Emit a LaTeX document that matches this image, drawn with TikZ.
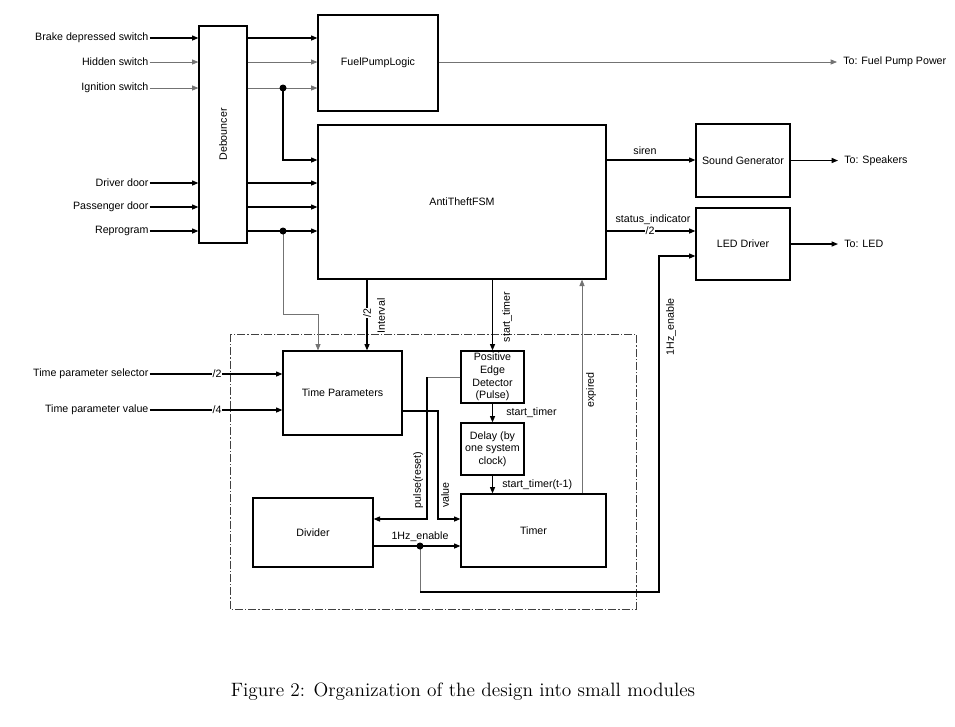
\documentclass[tikz,border=0pt]{standalone}
\usepackage{fontspec}
\newfontfamily\diafont{Liberation Sans}
\usetikzlibrary{arrows.meta}

\tikzset{
  blk/.style={draw, line width=0.9pt, inner sep=0.5pt, align=center, font=\diafont\fontsize{8}{9.5}\selectfont},
  lbl/.style={inner sep=0.75pt, align=center, font=\diafont\fontsize{8}{9.5}\selectfont},
  bus/.style={lbl, fill=white, inner sep=0.3pt},
  wire/.style={line width=0.9pt},
  gwire/.style={line width=0.6pt, color=black!55},
  frame/.style={line width=0.6pt, color=black!75, dash pattern=on 6pt off 1.5pt on 1pt off 1.5pt},
}

\begin{document}
\begin{tikzpicture}[x=0.75pt,y=0.75pt,yscale=-1,xscale=1, >={Triangle[length=4.8pt,width=3.8pt]}]
\useasboundingbox (0,0) rectangle (955,726);

% Blocks
\node[blk, minimum width=36pt, minimum height=162.75pt] (deb) at (223,134.5) {};
\node[lbl, rotate=90] (debtxt) at (deb) {Debouncer};
\node[blk, minimum width=90pt, minimum height=72pt] (fpl) at (378,63) {FuelPumpLogic};
\node[blk, minimum width=216pt, minimum height=115.5pt] (fsm) at (462,202) {AntiTheftFSM};
\node[blk, minimum width=70.5pt, minimum height=54.75pt] (snd) at (743,160.5) {Sound Generator};
\node[blk, minimum width=70.5pt, minimum height=54pt] (led) at (743,244) {LED Driver};
\node[blk, minimum width=89.25pt, minimum height=63pt] (tp) at (342.5,393) {Time Parameters};
\node[blk, minimum width=47.25pt, minimum height=39pt] (ped) at (492.5,377) {Positive\\Edge\\Detector\\(Pulse)};
\node[blk, minimum width=47.25pt, minimum height=39pt] (dly) at (492.5,449) {Delay (by\\one system\\clock)};
\node[blk, minimum width=108.75pt, minimum height=54.75pt] (tmr) at (533.5,530.5) {Timer};
\node[blk, minimum width=90pt, minimum height=51.75pt] (div) at (313,532.5) {Divider};

% Dashed frame round the timer modules
\draw[frame] (230,334) rectangle (636,609);

% Switch inputs
\node[lbl, anchor=east] (brk) at (149.7,38) {Brake depressed switch};
\node[lbl, anchor=east] (hid) at (149.7,62) {Hidden switch};
\node[lbl, anchor=east] (ign) at (149.7,88) {Ignition switch};
\node[lbl, anchor=east] (drv) at (149.7,183) {Driver door};
\node[lbl, anchor=east] (pas) at (149.7,207) {Passenger door};
\node[lbl, anchor=east] (rep) at (149.7,231) {Reprogram};

\draw[wire,->] (brk.east) -- (deb.west |- brk.east);
\draw[gwire,->] (hid.east) -- (deb.west |- hid.east);
\draw[gwire,->] (ign.east) -- (deb.west |- ign.east);
\draw[wire,->] (drv.east) -- (deb.west |- drv.east);
\draw[wire,->] (pas.east) -- (deb.west |- pas.east);
\draw[wire,->] (rep.east) -- (deb.west |- rep.east);

% Debounced signals
\draw[wire,->] (deb.east |- brk.east) -- (fpl.west |- brk.east);
\draw[gwire,->] (deb.east |- hid.east) -- (fpl.west |- hid.east);
\draw[gwire,->] (deb.east |- ign.east) -- (fpl.west |- ign.east);
\coordinate (ignj) at (283,88);
\draw[wire,->] (ignj) |- (fsm.west |- 0,160);
\fill (ignj) circle (3.5);
\draw[wire,->] (deb.east |- drv.east) -- (fsm.west |- drv.east);
\draw[wire,->] (deb.east |- pas.east) -- (fsm.west |- pas.east);
\draw[wire,->] (deb.east |- rep.east) -- (fsm.west |- rep.east);
\coordinate (repj) at (283,231);
\coordinate (repb) at (318,314);
\draw[gwire,->] (repj) |- (repb) -- (repb |- tp.north);
\fill (repj) circle (3.5);

% Fuel pump output
\coordinate (fpo) at (837,62);
\draw[gwire,->] (fpl.east |- hid.east) -- (fpo);
\node[lbl, anchor=west] (fpp) at (842,62) {To: Fuel Pump Power};

% Siren and LED outputs
\draw[wire,->] (fsm.east |- 0,160) -- (snd.west |- 0,160);
\node[lbl] (sirtxt) at (645,151) {siren};
\coordinate (spko) at (838,160.5);
\draw[wire,->] (snd.east) -- (spko);
\node[lbl, anchor=west] (spk) at (843,160.5) {To: Speakers};

\draw[wire,->] (fsm.east |- 0,231) -- (led.west |- 0,231);
\node[bus] (stbus) at (650,231) {/2};
\node[lbl] (sttxt) at (653,220) {status\_indicator};
\coordinate (ledo) at (838,244);
\draw[wire,->] (led.east) -- (ledo);
\node[lbl, anchor=west] (ledtxt) at (843,244) {To: LED};

% FSM to timer modules
\draw[wire,->] (fsm.south -| 367,0) -- (tp.north -| 367,0);
\node[bus, rotate=90] (intbus) at (367,313) {/2};
\node[lbl, rotate=90] (inttxt) at (381,316) {Interval};

\draw[wire,->] (fsm.south -| ped.north) -- (ped.north);
\node[lbl, rotate=90] (st1) at (507,317) {start\_timer};
\draw[wire,->] (ped.south) -- (dly.north);
\node[lbl, anchor=west] (st2) at (505,413) {start\_timer};
\draw[wire,->] (dly.south) -- (tmr.north -| dly.south);
\node[lbl, anchor=west] (st3) at (501,485) {start\_timer(t-1)};

\draw[gwire,->] (tmr.north -| 582,0) -- (fsm.south -| 582,0);
\node[lbl, rotate=90] (exptxt) at (591,390) {expired};

% Time parameter inputs
\node[lbl, anchor=east] (tps) at (149.7,374) {Time parameter selector};
\node[lbl, anchor=east] (tpv) at (149.7,410) {Time parameter value};
\draw[wire,->] (tps.east) -- (tp.west |- tps.east);
\draw[wire,->] (tpv.east) -- (tp.west |- tpv.east);
\node[bus] (tpsbus) at (217,374) {/2};
\node[bus] (tpvbus) at (217,410) {/4};

% Inside the frame
\draw[gwire] (ped.west |- 0,377) -- (427,377);
\draw[wire,->] (427,377) -- (427,519) -- (div.east |- 0,519);
\node[lbl, rotate=90] (pultxt) at (418,480) {pulse(reset)};
\draw[wire,->] (tp.east |- 0,411) -| (438,519) -- (tmr.west |- 0,519);
\node[lbl, rotate=90] (valtxt) at (445,495) {value};

\draw[wire,->] (div.east |- 0,546) -- (tmr.west |- 0,546);
\node[lbl] (hztxt) at (420,537) {1Hz\_enable};
\coordinate (hzj) at (420,546);
\draw[gwire] (hzj) -- (hzj |- 0,592) coordinate (hzb);
\draw[wire,->] (hzb) -| (659,256) -- (led.west |- 0,256);
\fill (hzj) circle (3.5);
\node[lbl, rotate=90] (hzvtxt) at (671,327) {1Hz\_enable};

% Caption
\node[font=\fontsize{14.5}{17}\selectfont] (cap) at (463,692) {Figure 2: Organization of the design into small modules};

\end{tikzpicture}
\end{document}
